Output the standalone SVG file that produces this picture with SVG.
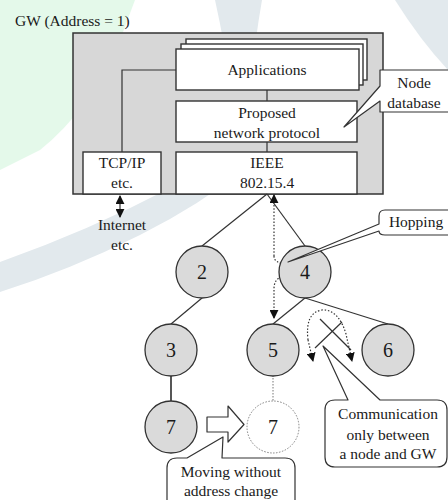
<svg xmlns="http://www.w3.org/2000/svg" width="448" height="500" viewBox="0 0 448 500" font-family="'Liberation Serif', 'Times New Roman', Times, 'DejaVu Serif', serif">
  <defs>
    <style>
      text { font-family: 'Liberation Serif', 'Times New Roman', Times, 'DejaVu Serif', serif; }
      .t { font-size: 15.5px; fill: #1a1a1a; }
      .num { font-size: 20px; fill: #1a1a1a; text-anchor: middle; }
      .mid { text-anchor: middle; }
      .box { fill: #ffffff; stroke: #333333; stroke-width: 1.4; }
      .gw { fill: #d7d7d7; stroke: #333333; stroke-width: 1.5; }
      .node { fill: #dadada; stroke: #333333; stroke-width: 1.3; }
      .ghost { fill: #ffffff; stroke: #808080; stroke-width: 1; stroke-dasharray: 1.5 1.5; }
      .link { fill: none; stroke: #333333; stroke-width: 1.2; }
      .dot { fill: none; stroke: #333333; stroke-width: 1.2; stroke-dasharray: 1.5 1.8; }
      .call { fill: #ffffff; stroke: #333333; stroke-width: 1.2; stroke-linejoin: round; }
      .wm1 { fill: #e4f9ea; }
      .wm2 { fill: #e2e9ed; }
    </style>
    <marker id="tri" viewBox="0 0 10 10" refX="9" refY="5" markerWidth="9" markerHeight="9" markerUnits="userSpaceOnUse" orient="auto">
      <path d="M0,0 L10,5 L0,10 Z" fill="#111111"/>
    </marker>
    <marker id="triS" viewBox="0 0 10 10" refX="9" refY="5" markerWidth="9" markerHeight="9" markerUnits="userSpaceOnUse" orient="auto-start-reverse">
      <path d="M0,0 L10,5 L0,10 Z" fill="#111111"/>
    </marker>
  </defs>

  <rect x="0" y="0" width="448" height="500" fill="#ffffff"/>

  <!-- faint background artwork -->
  <g id="backdrop">
    <path class="wm1" d="M0,0 H135 L120,40 Q90,110 40,150 L0,170 Z"/>
    <path class="wm2" d="M0,262 Q90,230 170,188 Q210,168 240,150 L250,165 Q200,205 140,235 Q70,270 0,292 Z"/>
    <path class="wm2" d="M215,0 H262 Q255,40 250,90 L232,95 Q225,45 215,0 Z"/>
    <path class="wm2" d="M395,0 H448 V70 Q420,40 395,0 Z"/>
  </g>

  <text class="t" x="15" y="26">GW (Address = 1)</text>

  <!-- gateway protocol stack -->
  <g id="gateway">
    <rect class="gw" x="73" y="33" width="310" height="161"/>
    <path class="link" d="M122,152 V70 H176 M267,90 V101 M267,142 V152"/>
  </g>
  <g id="applications">
    <rect class="box" x="186" y="39" width="181" height="41"/>
    <rect class="box" x="181" y="44" width="182" height="41"/>
    <rect class="box" x="176" y="49" width="183" height="41"/>
    <text class="t mid" x="267" y="75">Applications</text>
  </g>
  <g id="protocol">
    <rect class="box" x="176" y="101" width="181" height="41"/>
    <text class="t mid" x="267" y="118">Proposed</text>
    <text class="t mid" x="267" y="138">network protocol</text>
  </g>
  <g id="ieee">
    <rect class="box" x="176" y="152" width="181" height="42"/>
    <text class="t mid" x="267" y="168">IEEE</text>
    <text class="t mid" x="267" y="188">802.15.4</text>
  </g>
  <g id="tcpip">
    <rect class="box" x="83" y="152" width="78" height="42"/>
    <text class="t mid" x="122" y="168">TCP/IP</text>
    <text class="t mid" x="122" y="188">etc.</text>
  </g>
  <g id="internet">
    <text class="t mid" x="122" y="230">Internet</text>
    <text class="t mid" x="122" y="250">etc.</text>
  </g>

  <!-- links and message paths -->
  <g id="connectors">
    <line class="link" x1="120" y1="196" x2="120" y2="217" marker-start="url(#triS)" marker-end="url(#tri)"/>
    <line class="link" x1="267" y1="194" x2="202" y2="246"/>
    <line class="link" x1="267" y1="194" x2="305" y2="246"/>
    <line class="link" x1="202" y1="298" x2="171" y2="324"/>
    <line class="link" x1="305" y1="298" x2="273" y2="324"/>
    <line class="link" x1="305" y1="298" x2="388" y2="324"/>
    <line x1="171" y1="376" x2="171" y2="401" stroke="#444444" stroke-width="1.8"/>
    <line x1="273" y1="375" x2="273" y2="402" stroke="#777777" stroke-width="1" stroke-dasharray="1.5 1.5"/>
    <path class="dot" d="M274,256 V195" marker-end="url(#tri)"/>
    <path class="dot" d="M274,256 C274,262 279,262 284,265 C290,268 287,274 281,277 C276,279 274,283 274,289 V318" marker-end="url(#tri)"/>
    <path class="dot" d="M308,340 C306,322 310,312 322,310 C334,309 342,320 346,334 L352,361" marker-end="url(#tri)"/>
    <path class="dot" d="M308,340 L313,361" marker-end="url(#tri)"/>
    <line class="link" x1="315" y1="348" x2="342" y2="322"/>
    <line class="link" x1="320" y1="319" x2="351" y2="350"/>
  </g>

  <g id="n2"><circle class="node" cx="202" cy="272" r="26"/><text class="num" x="202" y="279">2</text></g>
  <g id="n4"><circle class="node" cx="305" cy="272" r="26"/><text class="num" x="305" y="279">4</text></g>
  <g id="n3"><circle class="node" cx="171" cy="350" r="26"/><text class="num" x="171" y="357">3</text></g>
  <g id="n5"><circle class="node" cx="273" cy="350" r="26"/><text class="num" x="273" y="357">5</text></g>
  <g id="n6"><circle class="node" cx="388" cy="350" r="26"/><text class="num" x="388" y="357">6</text></g>
  <g id="n7"><circle class="node" cx="171" cy="427" r="26"/><text class="num" x="171" y="434">7</text></g>
  <g id="n7-moved"><circle class="ghost" cx="273" cy="427" r="26"/><text class="num" x="273" y="434">7</text></g>

  <g id="move-arrow">
    <path class="call" d="M207,417 H228 V406 L244,424.5 L228,442 V432 H207 Z"/>
  </g>

  <!-- callouts -->
  <g id="node-database">
    <path class="call" d="M380,70 H452 V112 H380 V101 L344,127 L380,86 Z"/>
    <text class="t mid" x="414" y="88">Node</text>
    <text class="t mid" x="414" y="108">database</text>
  </g>
  <g id="hopping">
    <path class="call" d="M385,210 H452 V235 H385 Q379,235 379,231 L288,262 L379,224 V216 Q379,210 385,210 Z"/>
    <text class="t mid" x="416" y="227">Hopping</text>
  </g>
  <g id="communication">
    <path class="call" d="M335,400 H348 L323,346 L380,400 H437 Q447,400 447,410 V457 Q447,467 437,467 H335 Q325,467 325,457 V410 Q325,400 335,400 Z"/>
    <text class="t mid" x="388" y="419">Communication</text>
    <text class="t mid" x="388" y="440">only between</text>
    <text class="t mid" x="388" y="459">a node and GW</text>
  </g>
  <g id="moving">
    <path class="call" d="M177,458 H187 L223,437 L222,458 H285 Q295,458 295,468 V506 H167 V468 Q167,458 177,458 Z"/>
    <text class="t mid" x="231" y="477">Moving without</text>
    <text class="t mid" x="231" y="496">address change</text>
  </g>
</svg>
